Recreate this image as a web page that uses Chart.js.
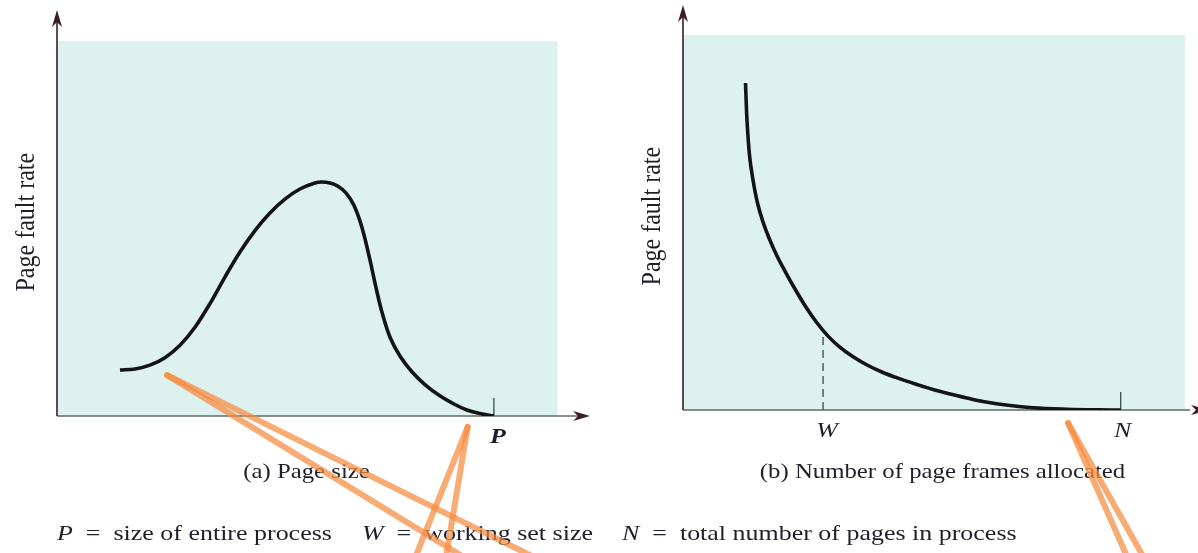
<!DOCTYPE html>
<html><head><meta charset="utf-8">
<script src="https://cdn.jsdelivr.net/npm/chart.js@4.4.1/dist/chart.umd.min.js"></script>
<style>
html,body{margin:0;padding:0;background:#fff;width:1198px;height:553px;overflow:hidden}
#ca{position:absolute;left:0;top:0}
#cb{position:absolute;left:600px;top:0}
</style></head><body>
<canvas id="ca" width="600" height="553"></canvas>
<canvas id="cb" width="598" height="553"></canvas>
<script>
// ---------- DATA ----------
// (a) page fault rate vs page size (P = 100)
const pageSizeX     = [14.42, 17.85, 21.28, 24.71, 28.15, 31.58, 35.01, 38.44, 41.88, 45.31, 48.74, 52.17, 55.61, 59.04, 60.64,
                       62.47, 64.30, 66.13, 67.96, 69.79, 71.62, 72.99, 74.37, 76.20, 78.49, 81.24, 84.21, 87.64, 91.08, 93.82, 96.80, 100];
const pageSizeFault = [12.27, 12.56, 13.57, 15.57, 18.88, 23.68, 29.97, 37.07, 43.76, 49.47, 54.16, 57.87, 60.56, 62.16, 62.40,
                       62.13, 61.28, 59.52, 56.21, 50.35, 41.71, 34.40, 27.73, 21.07, 16.00, 11.80, 8.40, 5.40, 3.07, 1.60, 0.64, 0];
// (b) page fault rate vs number of page frames allocated (N = 100)
const framesX     = [14.28, 14.62, 15.19, 15.99, 17.02, 18.28, 19.65, 21.48, 23.54, 25.82, 28.22, 30.63, 33.14, 35.89, 38.86,
                     42.06, 45.69, 49.58, 53.46, 57.12, 61.00, 64.88, 68.54, 72.42, 79.96, 87.73, 95.27, 100];
const framesFault = [87.20, 77.33, 68.00, 61.33, 55.20, 50.13, 45.87, 41.07, 36.53, 31.80, 27.20, 23.20, 19.70, 16.70, 14.20,
                     12.00, 10.00, 8.30, 6.80, 5.47, 4.27, 3.20, 2.27, 1.55, 0.60, 0.20, 0.03, 0];
const workingSetW     = 32.0;
const workingSetFault = 21.3;
// tick labels
const tickValuesA = [100];       const tickLabelsA = ['P'];
const tickValuesB = [32.0, 100]; const tickLabelsB = ['W', 'N'];
const tickMarksB  = [100];
// texts
const yAxisTitle  = 'Page fault rate';
const captions    = ['(a) Page size', '(b) Number of page frames allocated'];
const legendKeys  = ['P', 'W', 'N'];
const legendTexts = ['size of entire process', 'working set size', 'total number of pages in process'];
// hand-drawn orange annotation strokes (data units of each panel)
const strokeA1X = [25.2, 93.6];  const strokeA1Y = [10.9, -38];
const strokeA2X = [25.2, 109.8]; const strokeA2Y = [10.9, -38];
const strokeA3X = [94.0, 81.9];  const strokeA3Y = [-2.9, -38];
const strokeA4X = [94.0, 89.0];  const strokeA4Y = [-2.9, -38];
const strokeB1X = [88.0, 101.4]; const strokeB1Y = [-3.5, -39];
const strokeB2X = [88.0, 105.1]; const strokeB2Y = [-3.5, -39];

// ---------- STYLE ----------
const FONT = '"Liberation Serif", "Times New Roman", serif';
const INK = '#1f1f2c';
const TEAL = 'rgb(221,242,239)';
const YAXIS = '#3b1c28';
const XAXIS = '#5f6b68';
const ORANGE = 'rgba(246,138,62,0.72)';
const SX = 1.18;

const pts = (xs, ys) => xs.map((v, i) => ({x: v, y: ys[i]}));

function txt(ctx, s, x, y, font, align, sx) {
  ctx.save();
  ctx.translate(x, y); ctx.scale(sx, 1);
  ctx.font = font; ctx.textAlign = align; ctx.textBaseline = 'alphabetic';
  ctx.fillStyle = INK; ctx.fillText(s, 0, 0);
  ctx.restore();
}
function legendItem(ctx, key, text, x, y) {
  ctx.save();
  ctx.translate(x, y); ctx.scale(SX, 1);
  ctx.fillStyle = INK; ctx.textBaseline = 'alphabetic'; ctx.textAlign = 'left';
  ctx.font = 'italic 22px ' + FONT;
  ctx.fillText(key, 0, 0);
  const w = ctx.measureText(key).width;
  ctx.font = '22px ' + FONT;
  ctx.fillText('  =  ' + text, w, 0);
  ctx.restore();
}
function arrowHead(ctx, x, y, dir, color) {
  ctx.save();
  ctx.translate(x, y);
  if (dir === 'right') ctx.rotate(Math.PI / 2);
  ctx.beginPath();
  ctx.moveTo(0, 0); ctx.lineTo(-5, 17); ctx.lineTo(0, 12); ctx.lineTo(5, 17); ctx.closePath();
  ctx.fillStyle = color; ctx.fill();
  ctx.restore();
}

function panelPlugin(p) {
  return {
    id: 'panel' + p.id,
    beforeDatasetsDraw(chart) {
      const {ctx, chartArea, scales: {x, y}} = chart;
      const x0 = x.getPixelForValue(0), y0 = y.getPixelForValue(0);
      ctx.save();
      // background panel
      const xr = x.getPixelForValue(p.bgX), yt = y.getPixelForValue(100);
      ctx.fillStyle = TEAL;
      ctx.fillRect(x0, yt, xr - x0, y0 - yt);
      // x axis
      ctx.strokeStyle = XAXIS; ctx.lineWidth = 1.6;
      ctx.beginPath(); ctx.moveTo(x0, y0); ctx.lineTo(chartArea.right - 8, y0); ctx.stroke();
      arrowHead(ctx, chartArea.right + p.arrowOff, y0, 'right', YAXIS);
      // y axis
      ctx.strokeStyle = YAXIS; ctx.lineWidth = 1.6;
      ctx.beginPath(); ctx.moveTo(x0, y0); ctx.lineTo(x0, chartArea.top + 8); ctx.stroke();
      arrowHead(ctx, x0, chartArea.top, 'up', YAXIS);
      // tick marks
      ctx.strokeStyle = '#3d5a50'; ctx.lineWidth = 1.4;
      p.tickMarks.forEach(v => {
        const px = x.getPixelForValue(v);
        ctx.beginPath(); ctx.moveTo(px, y0); ctx.lineTo(px, y0 - 18); ctx.stroke();
      });
      // tick labels
      p.tickValues.forEach((v, i) => {
        txt(ctx, p.tickLabels[i], x.getPixelForValue(v) + p.tickDx[i], y0 + p.tickDy,
            p.tickFont[i] + ' 22px ' + FONT, 'center', SX);
      });
      // y axis title
      ctx.save();
      ctx.translate(x0 - 30, y.getPixelForValue(51.7));
      ctx.scale(1.1, 1);
      ctx.rotate(-Math.PI / 2);
      ctx.font = '24px ' + FONT; ctx.textAlign = 'center'; ctx.textBaseline = 'middle';
      ctx.fillStyle = INK; ctx.fillText(yAxisTitle, 0, 0);
      ctx.restore();
      // caption
      txt(ctx, p.caption, p.capX, 478, '21px ' + FONT, 'center', SX);
      // legend
      p.legend.forEach(l => legendItem(ctx, legendKeys[l.i], legendTexts[l.i], l.x, 540));
      ctx.restore();
    }
  };
}

function curveDs(data, order) {
  return {data, showLine: true, borderColor: '#141414', borderWidth: 3.6, pointRadius: 0,
          tension: 0.35, order, borderCapStyle: 'butt', borderJoinStyle: 'round'};
}
function strokeDs(data) {
  return {data, showLine: true, borderColor: ORANGE, borderWidth: 6, pointRadius: 0,
          borderCapStyle: 'round', clip: false, order: 0};
}
function baseOptions(pad, xmax, ymax) {
  return {
    responsive: false, animation: false, devicePixelRatio: 1, events: [],
    layout: {padding: pad},
    plugins: {legend: {display: false}, tooltip: {enabled: false}, title: {display: false}},
    scales: {
      x: {type: 'linear', min: 0, max: xmax, display: false},
      y: {type: 'linear', min: 0, max: ymax, display: false}
    }
  };
}

// Panel (a)
new Chart(document.getElementById('ca'), {
  type: 'scatter',
  data: {datasets: [
    strokeDs(pts(strokeA1X, strokeA1Y)),
    strokeDs(pts(strokeA2X, strokeA2Y)),
    strokeDs(pts(strokeA3X, strokeA3Y)),
    strokeDs(pts(strokeA4X, strokeA4Y)),
    curveDs(pts(pageSizeX, pageSizeFault), 1)
  ]},
  options: baseOptions({left: 57, right: 10, top: 10, bottom: 137}, 122, 108.3),
  plugins: [panelPlugin({id: 'a', bgX: 114.6, arrowOff: 0, tickMarks: tickValuesA, tickValues: tickValuesA,
    tickLabels: tickLabelsA, tickFont: ['italic bold'], tickDx: [4], tickDy: 27, caption: captions[0], capX: 306.5,
    legend: [{i: 0, x: 57}, {i: 1, x: 362}]})]
});

// Panel (b)
new Chart(document.getElementById('cb'), {
  type: 'scatter',
  data: {datasets: [
    strokeDs(pts(strokeB1X, strokeB1Y)),
    strokeDs(pts(strokeB2X, strokeB2Y)),
    curveDs(pts(framesX, framesFault), 1),
    {data: [{x: workingSetW, y: 0}, {x: workingSetW, y: workingSetFault}], showLine: true,
     borderColor: '#3d5a50', borderWidth: 1.4, borderDash: [8, 5], pointRadius: 0, order: 2}
  ]},
  options: baseOptions({left: 83, right: 0, top: 5, bottom: 143}, 117.66, 108),
  plugins: [panelPlugin({id: 'b', bgX: 114.7, arrowOff: 10, tickMarks: tickMarksB, tickValues: tickValuesB,
    tickLabels: tickLabelsB, tickFont: ['italic', 'italic'], tickDx: [4, 2], tickDy: 27, caption: captions[1], capX: 342.5,
    legend: [{i: 2, x: 22}]})]
});
</script>
</body></html>
